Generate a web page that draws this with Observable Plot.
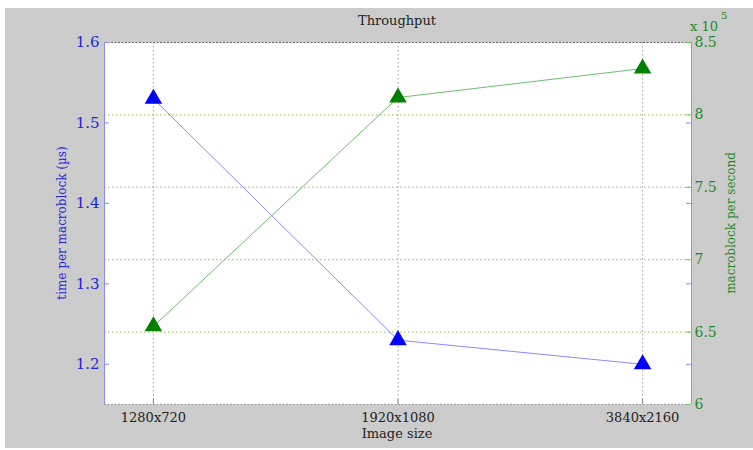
<!DOCTYPE html>
<html><head><meta charset="utf-8">
<script src="https://cdn.jsdelivr.net/npm/d3@7"></script>
<script src="https://cdn.jsdelivr.net/npm/@observablehq/plot@0.6"></script>
<style>
html,body{margin:0;padding:0;background:#fff;}
#wrap{position:relative;width:753px;height:450px;overflow:hidden;font-family:"DejaVu Serif",serif;}
#bg{position:absolute;left:5px;top:8px;width:748px;height:440px;background:#cccccc;}
#wrap svg{position:absolute;left:0;top:0;font-family:"DejaVu Serif",serif !important;}
#wrap svg text{font-family:"DejaVu Serif",serif;}
.t{position:absolute;white-space:nowrap;font-family:"DejaVu Serif",serif;}
</style></head>
<body>
<div id="wrap"><div id="bg"></div></div>
<script>
const categories = ["1280x720", "1920x1080", "3840x2160"];
const timePerMacroblock = [1.53, 1.23, 1.20];           // µs (left axis)
const macroblockPerSecond = [6.54, 8.12, 8.32];          // ×10^5 (right axis)
const leftTicks = [1.2, 1.3, 1.4, 1.5, 1.6];
const rightTicks = [6, 6.5, 7, 7.5, 8, 8.5];

const W = 753, H = 450;
const M = {marginLeft: 104, marginRight: 62, marginTop: 42, marginBottom: 46};
const plotW = W - M.marginLeft - M.marginRight;
const BLUE = "#2424dc", BLUE_LINE = "#8a8aff", GREEN = "#1f8a1f", GREEN_LINE = "#6cc06c";
const idx = categories.map((c, i) => i + 1);
const blue = categories.map((c, i) => ({x: i + 1, y: timePerMacroblock[i]}));
const green = categories.map((c, i) => ({x: i + 1, y: macroblockPerSecond[i]}));
const wrap = document.getElementById("wrap");
const FF = "DejaVu Serif";

// Green (right axis) layer, drawn underneath
const g = Plot.plot({
  width: W, height: H, ...M,
  style: {background: "transparent", fontFamily: FF, overflow: "visible"},
  x: {domain: [0.8, 3.2], axis: null},
  y: {domain: [6, 8.5], axis: null},
  marks: [
    Plot.frame({fill: "white", stroke: "none"}),
    Plot.ruleX(idx, {x: d => d, stroke: "#a0a0a0", strokeDasharray: "1.5,2.5", strokeWidth: 1}),
    Plot.ruleY(rightTicks.slice(1, -1), {y: d => d, stroke: "#9cb860", strokeDasharray: "1.5,2.5", strokeWidth: 1}),
    Plot.ruleY([8.5], {y: d => d, stroke: "#666", strokeDasharray: "2,1.5", strokeWidth: 1}),
    Plot.ruleY([6], {y: d => d, stroke: "#999", strokeDasharray: "2,1.5", strokeWidth: 1}),
    Plot.tickY(rightTicks, {y: d => d, stroke: GREEN_LINE, insetLeft: plotW - 5}),
    Plot.line(green, {x: "x", y: "y", stroke: GREEN_LINE, strokeWidth: 1}),
    Plot.dot(green, {x: "x", y: "y", symbol: "triangle", r: 6.5, fill: "#008000", stroke: "none"}),
    Plot.axisY({anchor: "right", ticks: rightTicks, tickSize: 0, tickPadding: 3, tickFormat: d => String(d),
      fontSize: 14, fontFamily: FF, color: GREEN, label: null}),
    Plot.ruleX([3.2], {x: d => d, stroke: GREEN_LINE, strokeWidth: 1})
  ]
});
wrap.appendChild(g);

// Blue (left axis) layer on top
const b = Plot.plot({
  width: W, height: H, ...M,
  style: {background: "transparent", fontFamily: FF, overflow: "visible"},
  x: {domain: [0.8, 3.2]},
  y: {domain: [1.15, 1.6]},
  marks: [
    Plot.tickY(leftTicks, {y: d => d, stroke: BLUE_LINE, insetRight: plotW - 5}),
    Plot.tickY(leftTicks.slice(0, -1), {y: d => d, stroke: BLUE_LINE, insetLeft: plotW - 5}),
    Plot.tickX(idx, {x: d => d, stroke: "#888", insetTop: H - M.marginTop - M.marginBottom - 5}),
    Plot.line(blue, {x: "x", y: "y", stroke: BLUE_LINE, strokeWidth: 1}),
    Plot.dot(blue, {x: "x", y: "y", symbol: "triangle", r: 6.5, fill: "#0000ff", stroke: "none"}),
    Plot.ruleX([0.8], {x: d => d, stroke: BLUE_LINE, strokeWidth: 1}),
    Plot.axisY({anchor: "left", ticks: leftTicks, tickSize: 0, tickPadding: 5, tickFormat: d => d.toFixed(1),
      fontSize: 15, fontFamily: FF, color: BLUE, label: null}),
    Plot.axisX({ticks: idx, tickSize: 0, tickPadding: 8, tickFormat: d => categories[d - 1],
      fontSize: 13, fontFamily: FF, color: "#222", label: null})
  ]
});
wrap.appendChild(b);

function addText(txt, css) {
  const d = document.createElement("div");
  d.className = "t";
  d.innerHTML = txt;
  Object.assign(d.style, css);
  wrap.appendChild(d);
}
addText("Throughput", {left: "397px", top: "13px", transform: "translateX(-50%)", fontSize: "13px", color: "#222"});
addText("Image size", {left: "397px", top: "426px", transform: "translateX(-50%)", fontSize: "13px", color: "#222"});
addText("time per macroblock (µs)", {left: "62px", top: "223px", transform: "translate(-50%,-50%) rotate(-90deg)", fontSize: "12px", color: BLUE});
addText("macroblock per second", {left: "731px", top: "223px", transform: "translate(-50%,-50%) rotate(-90deg)", fontSize: "12px", color: GREEN});
addText("x 10", {left: "690px", top: "19px", fontSize: "13px", lineHeight: "15px", color: GREEN});
addText("5", {left: "721px", top: "10px", fontSize: "10px", lineHeight: "12px", color: GREEN});
</script>
</body></html>
